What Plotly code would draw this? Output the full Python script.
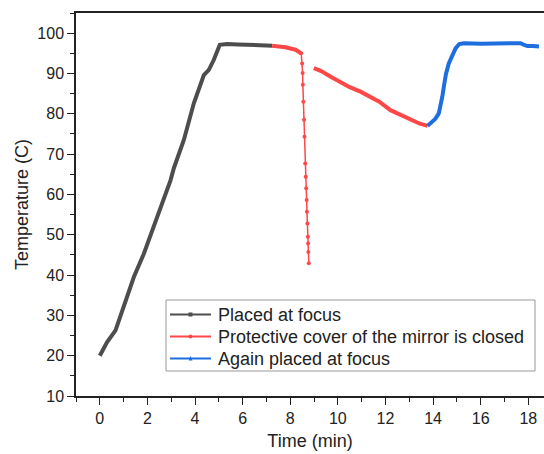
import plotly.graph_objects as go

# Series 1: Placed at focus
t_focus = [0.0, 0.3, 0.66, 1.01, 1.36, 1.43, 1.85, 2.27, 2.62, 2.97, 3.11, 3.53, 3.95,
           4.37, 4.58, 4.79, 5.04, 5.35, 5.8, 6.3, 6.7, 7.24]
T_focus = [20.0, 23.3, 26.3, 32.1, 37.9, 39.5, 45.3, 52.0, 57.3, 63.5, 66.5, 73.5, 82.6,
           89.6, 90.9, 93.4, 97.1, 97.3, 97.2, 97.1, 97.0, 96.9]

# Series 2: Protective cover closed (plateau, drop, then cooling)
t_cover_a = [7.24, 7.8, 8.22, 8.46]
T_cover_a = [96.9, 96.5, 95.9, 95.0]
t_cover_drop = [8.46, 8.50, 8.52, 8.53, 8.55, 8.58, 8.60, 8.63, 8.65, 8.67, 8.69, 8.70,
                8.72, 8.74, 8.75, 8.76, 8.78]
T_cover_drop = [95.0, 92.5, 90.1, 87.2, 83.0, 78.5, 74.3, 67.7, 64.4, 61.5, 58.6, 55.7,
                52.8, 49.5, 47.8, 45.7, 42.9]
t_cover_b = [8.99, 9.3, 9.7, 10.06, 10.5, 10.95, 11.46, 11.74, 12.21, 12.7, 13.1, 13.42, 13.77]
T_cover_b = [91.3, 90.6, 89.2, 88.0, 86.6, 85.5, 83.9, 83.0, 80.9, 79.6, 78.4, 77.6, 77.0]

# Series 3: Again placed at focus
t_again = [13.77, 13.9, 14.1, 14.24, 14.32, 14.39, 14.46, 14.54, 14.66, 14.8, 14.95, 15.1,
           15.3, 16.0, 16.7, 17.3, 17.68, 17.85, 17.96, 18.2, 18.45]
T_again = [77.0, 77.6, 78.8, 80.1, 82.0, 84.3, 87.0, 89.8, 92.5, 94.5, 96.3, 97.3,
           97.5, 97.4, 97.5, 97.5, 97.5, 97.0, 96.8, 96.8, 96.7]

names = ["Placed at focus", "Protective cover of the mirror is closed", "Again placed at focus"]
c_black = "#4d4d4d"
c_red = "#ff4747"
c_blue = "#1f6ee0"
colors = [c_black, c_red, c_blue]

fig = go.Figure()
fig.add_trace(go.Scatter(x=t_focus, y=T_focus, mode="lines", line=dict(color=c_black, width=4),
                         name=names[0], showlegend=False))
fig.add_trace(go.Scatter(x=t_cover_a, y=T_cover_a, mode="lines", line=dict(color=c_red, width=4),
                         name=names[1], showlegend=False))
fig.add_trace(go.Scatter(x=t_cover_drop, y=T_cover_drop, mode="lines+markers",
                         line=dict(color=c_red, width=1.5), marker=dict(size=4, color=c_red),
                         name=names[1], showlegend=False))
fig.add_trace(go.Scatter(x=t_cover_b, y=T_cover_b, mode="lines", line=dict(color=c_red, width=4),
                         name=names[1], showlegend=False))
fig.add_trace(go.Scatter(x=t_again, y=T_again, mode="lines", line=dict(color=c_blue, width=4),
                         name=names[2], showlegend=False))

# ---- custom legend (paper coords) ----
W_PLOT, H_PLOT, L, T_M = 468.0, 383.0, 76.0, 13.0
def px(x):
    return (x - L) / W_PLOT
def py(y):
    return (T_M + H_PLOT - y) / H_PLOT

shapes = [dict(type="rect", xref="paper", yref="paper",
               x0=px(166), x1=px(535), y0=py(371), y1=py(300),
               line=dict(color="#999", width=1), fillcolor="white", layer="above")]
annotations = []
rows = [314.5, 336.5, 358.5]
for i, (nm, col) in enumerate(zip(names, colors)):
    yy = py(rows[i])
    shapes.append(dict(type="line", xref="paper", yref="paper", x0=px(170), x1=px(211),
                       y0=yy, y1=yy, line=dict(color=col, width=1.8), layer="above"))
    cx = px(190.5)
    dx = 2.0 / W_PLOT
    dy = 2.0 / H_PLOT
    if i == 0:
        shapes.append(dict(type="rect", xref="paper", yref="paper", x0=cx - dx, x1=cx + dx,
                           y0=yy - dy, y1=yy + dy, fillcolor=col, line=dict(width=0), layer="above"))
    elif i == 1:
        shapes.append(dict(type="circle", xref="paper", yref="paper", x0=cx - dx, x1=cx + dx,
                           y0=yy - dy, y1=yy + dy, fillcolor=col, line=dict(width=0), layer="above"))
    else:
        shapes.append(dict(type="path", xref="paper", yref="paper",
                           path=f"M {cx - dx},{yy - dy} L {cx + dx},{yy - dy} L {cx},{yy + dy * 1.2} Z",
                           fillcolor=col, line=dict(width=0), layer="above"))
    annotations.append(dict(xref="paper", yref="paper", x=px(216), y=yy, xanchor="left",
                            yanchor="middle", text=nm, showarrow=False,
                            font=dict(size=18, color="#222")))

font_family = "Liberation Sans, Arial, sans-serif"
fig.update_layout(
    width=544, height=454,
    margin=dict(l=76, r=0, t=13, b=58),
    paper_bgcolor="white", plot_bgcolor="white",
    font=dict(family=font_family, size=16, color="#222"),
    showlegend=False,
    shapes=shapes, annotations=annotations,
    xaxis=dict(range=[-1, 18.66], showgrid=False, zeroline=False,
               showline=True, linecolor="#222", linewidth=1.5, mirror=True,
               ticks="outside", ticklen=7, tickwidth=1.2, tickcolor="#222",
               tick0=0, dtick=2,
               minor=dict(ticks="outside", ticklen=4, dtick=1, tickcolor="#222", tickwidth=1.2),
               title=dict(text="Time (min)", font=dict(size=18), standoff=8)),
    yaxis=dict(range=[10, 105], showgrid=False, zeroline=False,
               showline=True, linecolor="#222", linewidth=1.5,
               ticks="outside", ticklen=7, tickwidth=1.2, tickcolor="#222",
               tick0=10, dtick=10,
               minor=dict(ticks="outside", ticklen=4, dtick=5, tickcolor="#222", tickwidth=1.2),
               title=dict(text="Temperature (C)", font=dict(size=18), standoff=4)),
)

fig.write_html("out.html")
